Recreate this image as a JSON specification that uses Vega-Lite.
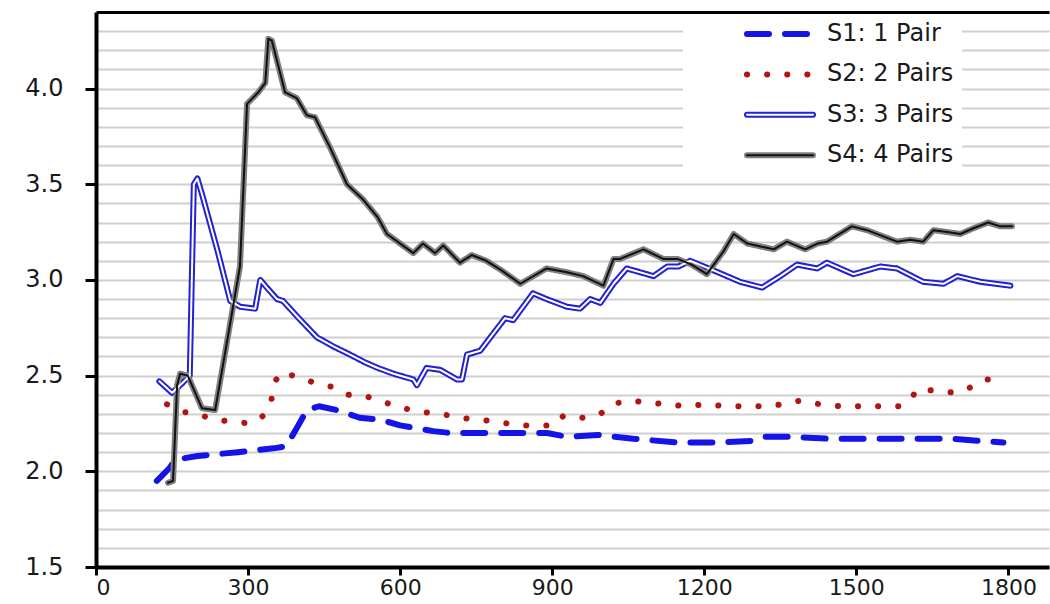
{
  "$schema": "https://vega.github.io/schema/vega-lite/v6.json",
  "width": 953,
  "height": 555,
  "autosize": "none",
  "padding": {"left": 96, "top": 12, "right": 1, "bottom": 37},
  "background": "white",
  "config": {
    "view": {"stroke": null},
    "font": "DejaVu Sans",
    "legend": {
      "orient": "none",
      "legendX": 587,
      "legendY": 2,
      "padding": 8,
      "symbolType": "M-4.125,0L4.125,0",
      "symbolSize": 256,
      "symbolOffset": 77,
      "labelOffset": 35,
      "rowPadding": 16.4,
      "labelFont": "DejaVu Sans",
      "labelFontSize": 24,
      "labelColor": "#1a1a1a",
      "labelLimit": 500,
      "labelExpr": "datum.label + '                '"
    }
  },
  "datasets": {
    "pts": [
      {"s": "S1: 1 Pair", "x": 120, "y": 1.95}, {"s": "S1: 1 Pair", "x": 146, "y": 2.02}, {"s": "S1: 1 Pair", "x": 155, "y": 2.06},
      {"s": "S1: 1 Pair", "x": 200, "y": 2.08}, {"s": "S1: 1 Pair", "x": 280, "y": 2.10}, {"s": "S1: 1 Pair", "x": 350, "y": 2.12},
      {"s": "S1: 1 Pair", "x": 375, "y": 2.13}, {"s": "S1: 1 Pair", "x": 397, "y": 2.23}, {"s": "S1: 1 Pair", "x": 416, "y": 2.32},
      {"s": "S1: 1 Pair", "x": 440, "y": 2.34}, {"s": "S1: 1 Pair", "x": 475, "y": 2.32}, {"s": "S1: 1 Pair", "x": 520, "y": 2.28},
      {"s": "S1: 1 Pair", "x": 560, "y": 2.27}, {"s": "S1: 1 Pair", "x": 600, "y": 2.24}, {"s": "S1: 1 Pair", "x": 665, "y": 2.21},
      {"s": "S1: 1 Pair", "x": 700, "y": 2.20}, {"s": "S1: 1 Pair", "x": 760, "y": 2.20}, {"s": "S1: 1 Pair", "x": 830, "y": 2.20},
      {"s": "S1: 1 Pair", "x": 890, "y": 2.20}, {"s": "S1: 1 Pair", "x": 930, "y": 2.18}, {"s": "S1: 1 Pair", "x": 990, "y": 2.19},
      {"s": "S1: 1 Pair", "x": 1060, "y": 2.17}, {"s": "S1: 1 Pair", "x": 1150, "y": 2.15}, {"s": "S1: 1 Pair", "x": 1220, "y": 2.15},
      {"s": "S1: 1 Pair", "x": 1300, "y": 2.16}, {"s": "S1: 1 Pair", "x": 1320, "y": 2.18}, {"s": "S1: 1 Pair", "x": 1370, "y": 2.18},
      {"s": "S1: 1 Pair", "x": 1450, "y": 2.17}, {"s": "S1: 1 Pair", "x": 1530, "y": 2.17}, {"s": "S1: 1 Pair", "x": 1610, "y": 2.17},
      {"s": "S1: 1 Pair", "x": 1690, "y": 2.17}, {"s": "S1: 1 Pair", "x": 1740, "y": 2.16}, {"s": "S1: 1 Pair", "x": 1790, "y": 2.15},

      {"s": "S2: 2 Pairs", "x": 140, "y": 2.35}, {"s": "S2: 2 Pairs", "x": 172, "y": 2.31}, {"s": "S2: 2 Pairs", "x": 201, "y": 2.30},
      {"s": "S2: 2 Pairs", "x": 231, "y": 2.27}, {"s": "S2: 2 Pairs", "x": 268, "y": 2.26}, {"s": "S2: 2 Pairs", "x": 304, "y": 2.25},
      {"s": "S2: 2 Pairs", "x": 330, "y": 2.29}, {"s": "S2: 2 Pairs", "x": 344, "y": 2.35}, {"s": "S2: 2 Pairs", "x": 349, "y": 2.41},
      {"s": "S2: 2 Pairs", "x": 353, "y": 2.47}, {"s": "S2: 2 Pairs", "x": 367, "y": 2.52}, {"s": "S2: 2 Pairs", "x": 399, "y": 2.49},
      {"s": "S2: 2 Pairs", "x": 434, "y": 2.46}, {"s": "S2: 2 Pairs", "x": 468, "y": 2.44}, {"s": "S2: 2 Pairs", "x": 497, "y": 2.40},
      {"s": "S2: 2 Pairs", "x": 535, "y": 2.39}, {"s": "S2: 2 Pairs", "x": 570, "y": 2.36}, {"s": "S2: 2 Pairs", "x": 605, "y": 2.33},
      {"s": "S2: 2 Pairs", "x": 643, "y": 2.31}, {"s": "S2: 2 Pairs", "x": 681, "y": 2.30}, {"s": "S2: 2 Pairs", "x": 717, "y": 2.28},
      {"s": "S2: 2 Pairs", "x": 754, "y": 2.27}, {"s": "S2: 2 Pairs", "x": 792, "y": 2.26}, {"s": "S2: 2 Pairs", "x": 830, "y": 2.24},
      {"s": "S2: 2 Pairs", "x": 868, "y": 2.24}, {"s": "S2: 2 Pairs", "x": 904, "y": 2.24}, {"s": "S2: 2 Pairs", "x": 922, "y": 2.29},
      {"s": "S2: 2 Pairs", "x": 961, "y": 2.28}, {"s": "S2: 2 Pairs", "x": 995, "y": 2.30}, {"s": "S2: 2 Pairs", "x": 1018, "y": 2.35},
      {"s": "S2: 2 Pairs", "x": 1050, "y": 2.37}, {"s": "S2: 2 Pairs", "x": 1087, "y": 2.36}, {"s": "S2: 2 Pairs", "x": 1125, "y": 2.35},
      {"s": "S2: 2 Pairs", "x": 1162, "y": 2.34}, {"s": "S2: 2 Pairs", "x": 1204, "y": 2.35}, {"s": "S2: 2 Pairs", "x": 1243, "y": 2.34},
      {"s": "S2: 2 Pairs", "x": 1283, "y": 2.34}, {"s": "S2: 2 Pairs", "x": 1320, "y": 2.34}, {"s": "S2: 2 Pairs", "x": 1356, "y": 2.35},
      {"s": "S2: 2 Pairs", "x": 1390, "y": 2.37}, {"s": "S2: 2 Pairs", "x": 1429, "y": 2.35}, {"s": "S2: 2 Pairs", "x": 1467, "y": 2.34},
      {"s": "S2: 2 Pairs", "x": 1506, "y": 2.34}, {"s": "S2: 2 Pairs", "x": 1545, "y": 2.34}, {"s": "S2: 2 Pairs", "x": 1583, "y": 2.34},
      {"s": "S2: 2 Pairs", "x": 1606, "y": 2.37}, {"s": "S2: 2 Pairs", "x": 1620, "y": 2.43}, {"s": "S2: 2 Pairs", "x": 1658, "y": 2.42},
      {"s": "S2: 2 Pairs", "x": 1696, "y": 2.41}, {"s": "S2: 2 Pairs", "x": 1727, "y": 2.44}, {"s": "S2: 2 Pairs", "x": 1753, "y": 2.48},
      {"s": "S2: 2 Pairs", "x": 1790, "y": 2.48},

      {"s": "S3: 3 Pairs", "x": 125, "y": 2.47}, {"s": "S3: 3 Pairs", "x": 150, "y": 2.41}, {"s": "S3: 3 Pairs", "x": 170, "y": 2.46},
      {"s": "S3: 3 Pairs", "x": 185, "y": 2.50}, {"s": "S3: 3 Pairs", "x": 193, "y": 3.50}, {"s": "S3: 3 Pairs", "x": 200, "y": 3.53},
      {"s": "S3: 3 Pairs", "x": 210, "y": 3.44}, {"s": "S3: 3 Pairs", "x": 240, "y": 3.15}, {"s": "S3: 3 Pairs", "x": 265, "y": 2.89},
      {"s": "S3: 3 Pairs", "x": 284, "y": 2.86}, {"s": "S3: 3 Pairs", "x": 314, "y": 2.85}, {"s": "S3: 3 Pairs", "x": 324, "y": 3.00},
      {"s": "S3: 3 Pairs", "x": 337, "y": 2.96}, {"s": "S3: 3 Pairs", "x": 357, "y": 2.90}, {"s": "S3: 3 Pairs", "x": 369, "y": 2.89},
      {"s": "S3: 3 Pairs", "x": 400, "y": 2.80}, {"s": "S3: 3 Pairs", "x": 436, "y": 2.70}, {"s": "S3: 3 Pairs", "x": 470, "y": 2.65},
      {"s": "S3: 3 Pairs", "x": 501, "y": 2.61}, {"s": "S3: 3 Pairs", "x": 530, "y": 2.57}, {"s": "S3: 3 Pairs", "x": 556, "y": 2.54},
      {"s": "S3: 3 Pairs", "x": 587, "y": 2.51}, {"s": "S3: 3 Pairs", "x": 626, "y": 2.48}, {"s": "S3: 3 Pairs", "x": 633, "y": 2.45},
      {"s": "S3: 3 Pairs", "x": 652, "y": 2.54}, {"s": "S3: 3 Pairs", "x": 679, "y": 2.53}, {"s": "S3: 3 Pairs", "x": 712, "y": 2.48},
      {"s": "S3: 3 Pairs", "x": 722, "y": 2.48}, {"s": "S3: 3 Pairs", "x": 732, "y": 2.61}, {"s": "S3: 3 Pairs", "x": 758, "y": 2.63},
      {"s": "S3: 3 Pairs", "x": 778, "y": 2.70}, {"s": "S3: 3 Pairs", "x": 807, "y": 2.80}, {"s": "S3: 3 Pairs", "x": 823, "y": 2.79},
      {"s": "S3: 3 Pairs", "x": 862, "y": 2.93}, {"s": "S3: 3 Pairs", "x": 889, "y": 2.90}, {"s": "S3: 3 Pairs", "x": 929, "y": 2.86},
      {"s": "S3: 3 Pairs", "x": 955, "y": 2.85}, {"s": "S3: 3 Pairs", "x": 975, "y": 2.90}, {"s": "S3: 3 Pairs", "x": 995, "y": 2.88},
      {"s": "S3: 3 Pairs", "x": 1021, "y": 2.98}, {"s": "S3: 3 Pairs", "x": 1047, "y": 3.06}, {"s": "S3: 3 Pairs", "x": 1100, "y": 3.02},
      {"s": "S3: 3 Pairs", "x": 1127, "y": 3.07}, {"s": "S3: 3 Pairs", "x": 1149, "y": 3.07}, {"s": "S3: 3 Pairs", "x": 1172, "y": 3.10},
      {"s": "S3: 3 Pairs", "x": 1218, "y": 3.05}, {"s": "S3: 3 Pairs", "x": 1271, "y": 2.99}, {"s": "S3: 3 Pairs", "x": 1314, "y": 2.96},
      {"s": "S3: 3 Pairs", "x": 1350, "y": 3.02}, {"s": "S3: 3 Pairs", "x": 1383, "y": 3.08}, {"s": "S3: 3 Pairs", "x": 1423, "y": 3.06},
      {"s": "S3: 3 Pairs", "x": 1442, "y": 3.09}, {"s": "S3: 3 Pairs", "x": 1494, "y": 3.03}, {"s": "S3: 3 Pairs", "x": 1547, "y": 3.07},
      {"s": "S3: 3 Pairs", "x": 1580, "y": 3.06}, {"s": "S3: 3 Pairs", "x": 1632, "y": 2.99}, {"s": "S3: 3 Pairs", "x": 1672, "y": 2.98},
      {"s": "S3: 3 Pairs", "x": 1699, "y": 3.02}, {"s": "S3: 3 Pairs", "x": 1745, "y": 2.99}, {"s": "S3: 3 Pairs", "x": 1804, "y": 2.97},

      {"s": "S4: 4 Pairs", "x": 142, "y": 1.94}, {"s": "S4: 4 Pairs", "x": 152, "y": 1.95}, {"s": "S4: 4 Pairs", "x": 160, "y": 2.45},
      {"s": "S4: 4 Pairs", "x": 166, "y": 2.51}, {"s": "S4: 4 Pairs", "x": 181, "y": 2.50}, {"s": "S4: 4 Pairs", "x": 209, "y": 2.33},
      {"s": "S4: 4 Pairs", "x": 235, "y": 2.32}, {"s": "S4: 4 Pairs", "x": 258, "y": 2.67}, {"s": "S4: 4 Pairs", "x": 284, "y": 3.07},
      {"s": "S4: 4 Pairs", "x": 298, "y": 3.92}, {"s": "S4: 4 Pairs", "x": 320, "y": 3.98}, {"s": "S4: 4 Pairs", "x": 334, "y": 4.03},
      {"s": "S4: 4 Pairs", "x": 340, "y": 4.26}, {"s": "S4: 4 Pairs", "x": 347, "y": 4.25}, {"s": "S4: 4 Pairs", "x": 373, "y": 3.98},
      {"s": "S4: 4 Pairs", "x": 396, "y": 3.95}, {"s": "S4: 4 Pairs", "x": 416, "y": 3.86}, {"s": "S4: 4 Pairs", "x": 432, "y": 3.85},
      {"s": "S4: 4 Pairs", "x": 462, "y": 3.69}, {"s": "S4: 4 Pairs", "x": 495, "y": 3.50}, {"s": "S4: 4 Pairs", "x": 527, "y": 3.42},
      {"s": "S4: 4 Pairs", "x": 555, "y": 3.33}, {"s": "S4: 4 Pairs", "x": 574, "y": 3.24}, {"s": "S4: 4 Pairs", "x": 626, "y": 3.14},
      {"s": "S4: 4 Pairs", "x": 645, "y": 3.19}, {"s": "S4: 4 Pairs", "x": 669, "y": 3.14}, {"s": "S4: 4 Pairs", "x": 685, "y": 3.18},
      {"s": "S4: 4 Pairs", "x": 718, "y": 3.09}, {"s": "S4: 4 Pairs", "x": 741, "y": 3.13}, {"s": "S4: 4 Pairs", "x": 770, "y": 3.10},
      {"s": "S4: 4 Pairs", "x": 800, "y": 3.05}, {"s": "S4: 4 Pairs", "x": 837, "y": 2.98}, {"s": "S4: 4 Pairs", "x": 889, "y": 3.06},
      {"s": "S4: 4 Pairs", "x": 929, "y": 3.04}, {"s": "S4: 4 Pairs", "x": 961, "y": 3.02}, {"s": "S4: 4 Pairs", "x": 1001, "y": 2.97},
      {"s": "S4: 4 Pairs", "x": 1021, "y": 3.11}, {"s": "S4: 4 Pairs", "x": 1034, "y": 3.11}, {"s": "S4: 4 Pairs", "x": 1080, "y": 3.16},
      {"s": "S4: 4 Pairs", "x": 1119, "y": 3.11}, {"s": "S4: 4 Pairs", "x": 1147, "y": 3.11}, {"s": "S4: 4 Pairs", "x": 1175, "y": 3.08},
      {"s": "S4: 4 Pairs", "x": 1205, "y": 3.03}, {"s": "S4: 4 Pairs", "x": 1238, "y": 3.15}, {"s": "S4: 4 Pairs", "x": 1258, "y": 3.24},
      {"s": "S4: 4 Pairs", "x": 1285, "y": 3.19}, {"s": "S4: 4 Pairs", "x": 1337, "y": 3.16}, {"s": "S4: 4 Pairs", "x": 1363, "y": 3.20},
      {"s": "S4: 4 Pairs", "x": 1399, "y": 3.16}, {"s": "S4: 4 Pairs", "x": 1423, "y": 3.19}, {"s": "S4: 4 Pairs", "x": 1442, "y": 3.20},
      {"s": "S4: 4 Pairs", "x": 1491, "y": 3.28}, {"s": "S4: 4 Pairs", "x": 1521, "y": 3.26}, {"s": "S4: 4 Pairs", "x": 1580, "y": 3.20},
      {"s": "S4: 4 Pairs", "x": 1606, "y": 3.21}, {"s": "S4: 4 Pairs", "x": 1632, "y": 3.20}, {"s": "S4: 4 Pairs", "x": 1652, "y": 3.26},
      {"s": "S4: 4 Pairs", "x": 1679, "y": 3.25}, {"s": "S4: 4 Pairs", "x": 1705, "y": 3.24}, {"s": "S4: 4 Pairs", "x": 1731, "y": 3.27},
      {"s": "S4: 4 Pairs", "x": 1760, "y": 3.30}, {"s": "S4: 4 Pairs", "x": 1784, "y": 3.28}, {"s": "S4: 4 Pairs", "x": 1807, "y": 3.28}
    ]
  },
  "data": {"name": "pts"},
  "encoding": {
    "x": {
      "field": "x", "type": "quantitative",
      "scale": {"domain": [0, 1880], "nice": false, "zero": false},
      "axis": {
        "title": null, "values": [0, 300, 600, 900, 1200, 1500, 1800], "format": "d",
        "grid": false, "domainColor": "black", "domainWidth": 4,
        "tickColor": "black", "tickWidth": 3, "tickSize": 8,
        "labelFont": "DejaVu Sans", "labelFontSize": 22, "labelColor": "#1a1a1a",
        "labelPadding": 2, "labelOverlap": false
      }
    },
    "y": {
      "field": "y", "type": "quantitative",
      "scale": {"domain": [1.5, 4.4], "nice": false, "zero": false},
      "axis": {
        "title": null,
        "values": [1.5, 1.6, 1.7, 1.8, 1.9, 2.0, 2.1, 2.2, 2.3, 2.4, 2.5, 2.6, 2.7, 2.8, 2.9, 3.0, 3.1, 3.2, 3.3, 3.4, 3.5, 3.6, 3.7, 3.8, 3.9, 4.0, 4.1, 4.2, 4.3, 4.4],
        "grid": true,
        "gridColor": {"condition": {"test": "datum.value > 4.35", "value": "black"}, "value": "#cfcfcf"},
        "gridWidth": {"condition": {"test": "datum.value > 4.35", "value": 3}, "value": 2},
        "domainColor": "black", "domainWidth": 4,
        "tickColor": "black", "tickWidth": 3, "tickSize": 11,
        "tickOpacity": {"condition": {"test": "abs(datum.value*2 - round(datum.value*2)) < 0.01", "value": 1}, "value": 0},
        "labelExpr": "abs(datum.value*2 - round(datum.value*2)) < 0.01 ? format(datum.value, '.1f') : ''",
        "labelFont": "DejaVu Sans", "labelFontSize": 24, "labelColor": "#1a1a1a",
        "labelPadding": 22, "labelOverlap": false
      }
    }
  },
  "layer": [
    {
      "mark": {"type": "line", "strokeWidth": 6, "strokeCap": "round", "strokeJoin": "round"},
      "encoding": {
        "color": {
          "field": "s", "type": "nominal",
          "scale": {"domain": ["S1: 1 Pair", "S2: 2 Pairs", "S3: 3 Pairs", "S4: 4 Pairs"], "range": ["#1414e6", "#b01414", "#2222d2", "#808080"]},
          "legend": {"title": null, "fillColor": "white", "symbolStrokeWidth": 6,
            "encode": {"symbols": {"update": {"strokeCap": {"value": "round"}}}}}
        },
        "strokeDash": {
          "field": "s", "type": "nominal",
          "scale": {"domain": ["S1: 1 Pair", "S2: 2 Pairs", "S3: 3 Pairs", "S4: 4 Pairs"], "range": [[22, 16], [0.1, 20], [1, 0], [1, 0]]},
          "legend": {"title": null, "fillColor": "white", "symbolStrokeWidth": 6,
            "encode": {"symbols": {"update": {"strokeCap": {"value": "round"}}}}}
        }
      }
    },
    {
      "transform": [{"filter": {"field": "s", "oneOf": ["S3: 3 Pairs", "S4: 4 Pairs"]}}],
      "mark": {"type": "line", "strokeWidth": 2, "strokeCap": "round", "strokeJoin": "round"},
      "encoding": {
        "color": {
          "field": "s", "type": "nominal",
          "scale": {"domain": ["S1: 1 Pair", "S2: 2 Pairs", "S3: 3 Pairs", "S4: 4 Pairs"], "range": ["rgba(0,0,0,0)", "rgba(0,0,0,0)", "white", "#111111"]},
          "legend": {"title": null, "fillColor": "rgba(0,0,0,0)", "symbolStrokeWidth": 2, "labelOpacity": 0,
            "encode": {"symbols": {"update": {"strokeCap": {"value": "round"}}}}}
        }
      }
    }
  ],
  "resolve": {
    "scale": {"color": "independent", "strokeDash": "independent"},
    "legend": {"color": "independent", "strokeDash": "independent"}
  }
}
